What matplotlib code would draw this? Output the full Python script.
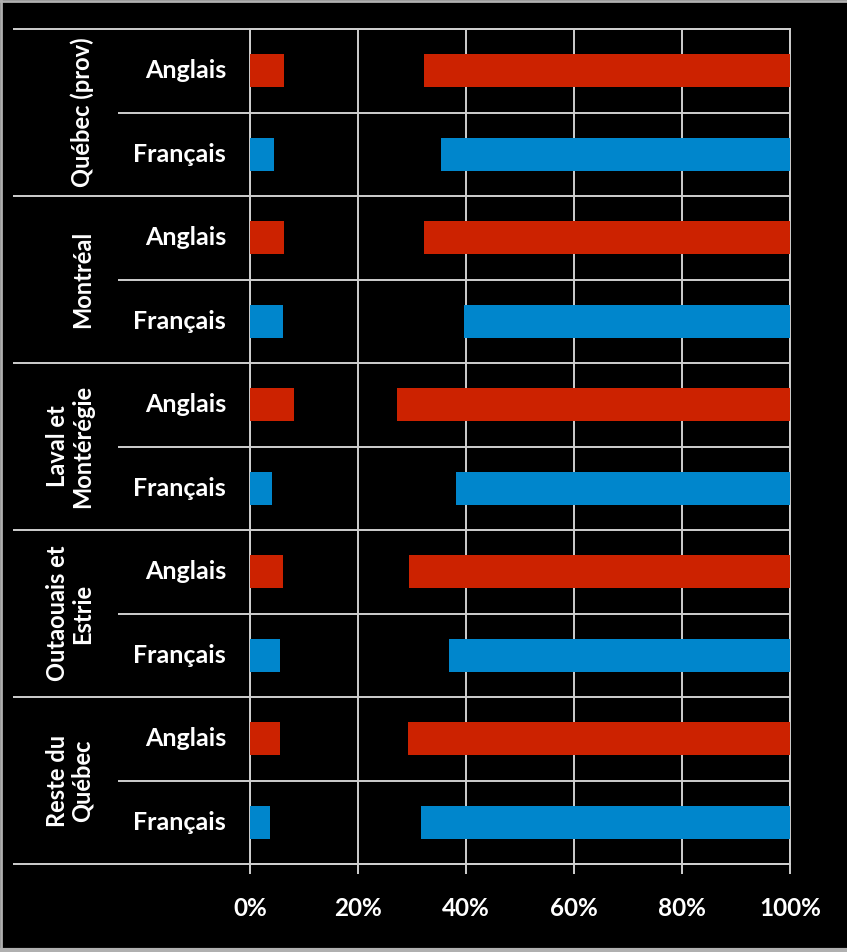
import matplotlib
matplotlib.use("Agg")
import matplotlib.pyplot as plt
import numpy as np
from matplotlib.lines import Line2D

# Regions (groups) and language sub-categories, top to bottom
regions = ["Québec (prov)", "Montréal", "Laval et\nMontérégie",
           "Outaouais et\nEstrie", "Reste du\nQuébec"]
languages = ["Anglais", "Français"]

# Share (%) per bar: first segment, hidden middle segment, last segment
low = [6.3, 4.4, 6.3, 6.2, 8.1, 4.1, 6.2, 5.5, 5.6, 3.7]
mid = [25.9, 31.0, 25.9, 33.4, 19.1, 34.1, 23.3, 31.3, 23.7, 27.9]
high = [67.8, 64.6, 67.8, 60.4, 72.8, 61.8, 70.5, 63.2, 70.7, 68.4]

xticks = [0, 20, 40, 60, 80, 100]
xticklabels = ["0%", "20%", "40%", "60%", "80%", "100%"]

colors = {"Anglais": "#cc2200", "Français": "#0086cc"}
line_col = "#cfcfcf"
font = ["Lato", "DejaVu Sans"]

W, H = 847, 952
fig = plt.figure(figsize=(W / 100, H / 100), dpi=100, facecolor="black")

ax_left, ax_right = 250 / W, 790 / W
ax_top, ax_bottom = 1 - 29 / H, 1 - 864 / H
ax = fig.add_axes([ax_left, ax_bottom, ax_right - ax_left, ax_top - ax_bottom])
ax.set_facecolor("black")

n = len(low)
ypos = np.arange(n)
bar_colors = [colors[languages[i % 2]] for i in range(n)]
low_a = np.array(low)
mid_a = np.array(mid)
high_a = np.array(high)

ax.barh(ypos, low_a, height=0.4, color=bar_colors, zorder=3)
ax.barh(ypos, high_a, left=low_a + mid_a, height=0.4, color=bar_colors, zorder=3)

ax.set_xlim(0, 100)
ax.set_ylim(n - 0.5, -0.5)

# vertical gridlines
ax.set_xticks(xticks)
ax.set_xticklabels(xticklabels)
ax.xaxis.grid(True, color=line_col, linewidth=1.4, zorder=1)
ax.set_axisbelow(True)
ax.set_yticks([])
ax.tick_params(axis="x", direction="out", length=7, width=1.4, color=line_col,
               labelcolor="white", labelsize=17.5, pad=17)
for lab in ax.get_xticklabels():
    lab.set_fontfamily(font)
    lab.set_fontweight("bold")

for side in ["top", "bottom", "left", "right"]:
    ax.spines[side].set_color(line_col)
    ax.spines[side].set_linewidth(1.4)

# horizontal separators extending into the label area
ytr = ax.get_yaxis_transform()
x_outer = (13 / W - ax_left) / (ax_right - ax_left)
x_inner = (118 / W - ax_left) / (ax_right - ax_left)
for k in range(n + 1):
    yb = k - 0.5
    x0 = x_outer if k % 2 == 0 else x_inner
    ax.plot([x0, 1], [yb, yb], transform=ytr, color=line_col, linewidth=1.4,
            clip_on=False, zorder=2, solid_capstyle="butt")

# sub-category labels
x_sub = (226 / W - ax_left) / (ax_right - ax_left)
for i in range(n):
    ax.text(x_sub, ypos[i], languages[i % 2], transform=ytr, ha="right",
            va="center", color="white", fontsize=18, fontweight="bold",
            fontfamily=font)

# group labels (rotated)
x_grp = (94 / W - ax_left) / (ax_right - ax_left)
for g, name in enumerate(regions):
    yc = 2 * g + 0.5
    ax.text(x_grp, yc, name, transform=ytr, ha="right", va="center",
            rotation=90, multialignment="center", color="white",
            fontsize=17, fontweight="bold", fontfamily=font,
            linespacing=1.1)

# outer border on top, left and bottom edges
border = "#b0b0b0"
fig.lines.append(Line2D([0, 1], [1 - 1 / H, 1 - 1 / H], transform=fig.transFigure,
                        color=border, linewidth=2))
fig.lines.append(Line2D([1 / W, 1 / W], [0, 1], transform=fig.transFigure,
                        color=border, linewidth=2))
fig.lines.append(Line2D([0, 1], [2 / H, 2 / H], transform=fig.transFigure,
                        color=border, linewidth=3))

fig.savefig("out.png", dpi=100, facecolor="black")
